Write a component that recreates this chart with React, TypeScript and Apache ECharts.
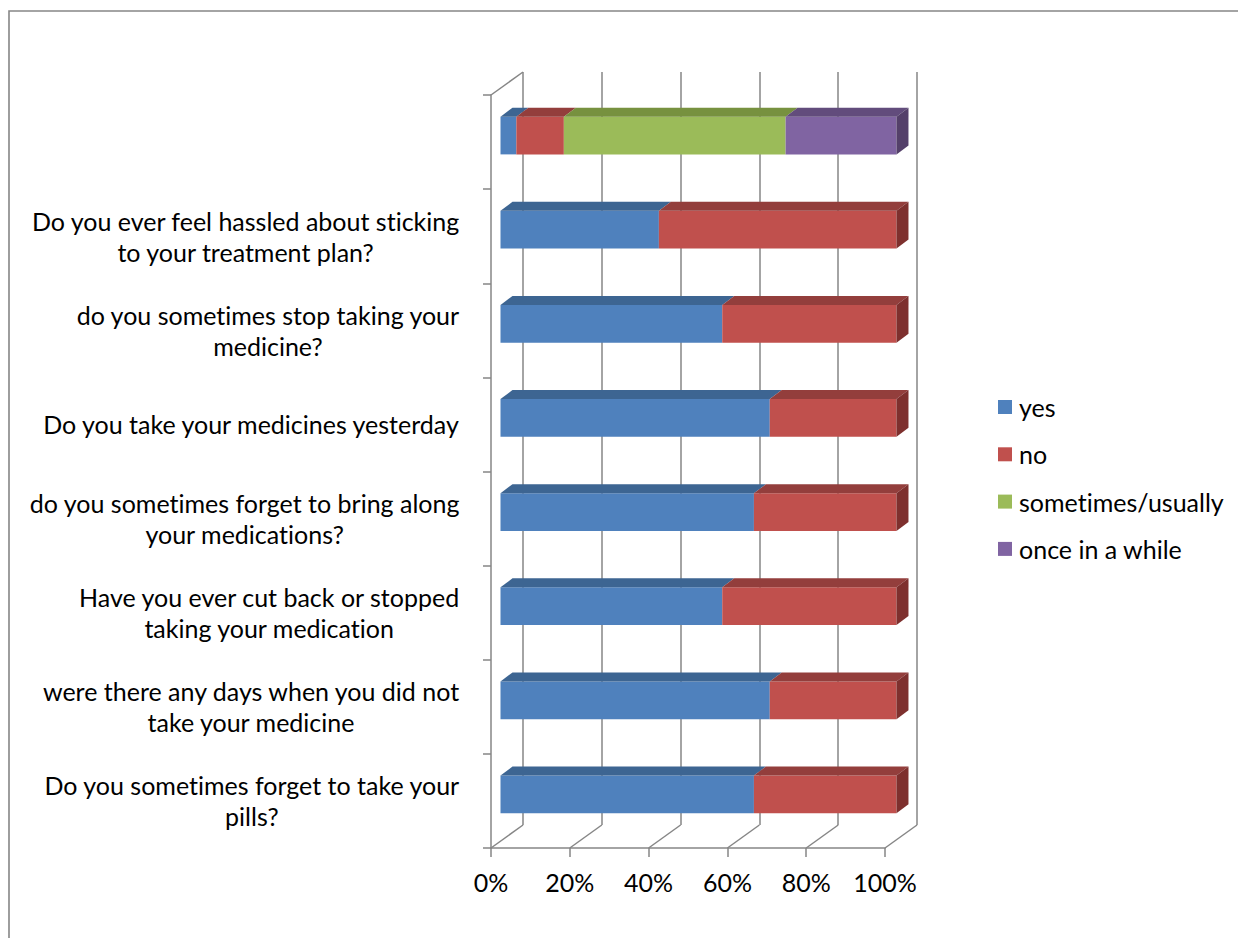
import React, { useEffect, useRef } from "react";
import * as echarts from "echarts";

const categories = [
  "",
  "Do you ever feel hassled about sticking\nto your treatment plan?",
  "do you sometimes stop taking your\nmedicine?",
  "Do you take your medicines yesterday",
  "do you sometimes forget to bring along\nyour medications?",
  "Have you ever cut back or stopped\ntaking your medication",
  "were there any days when you did not\ntake your medicine",
  "Do you sometimes forget to take your\npills?",
];
const seriesNames = ["yes", "no", "sometimes/usually", "once in a while"];
const yes = [4, 40, 56, 68, 64, 56, 68, 64];
const no = [12, 60, 44, 32, 36, 44, 32, 36];
const sometimesUsually = [56, 0, 0, 0, 0, 0, 0, 0];
const onceInAWhile = [28, 0, 0, 0, 0, 0, 0, 0];
const xTicks = [0, 20, 40, 60, 80, 100];

const FONT = "Lato, 'Liberation Sans', sans-serif";
const FS = 25;
const AXIS = "#868686";
const faceColors = ["#4F81BD", "#C0504D", "#9BBB59", "#8064A2"];
const topColors = ["#3D6592", "#933E3C", "#77913F", "#624C7C"];
const sideColors = ["#35587F", "#7E302E", "#657D35", "#54406A"];

// 3D geometry (pixels)
const WALL_DX = 32;
const WALL_DY = -23;
const BAR_DX = 9.5;
const BAR_DY = -6.5;
const BAR_SCALE = 1.005;
const BAR_DEPTH_X = 12;
const BAR_DEPTH_Y = -9;

export default function App() {
  const ref = useRef<HTMLDivElement>(null);
  useEffect(() => {
    const chart = echarts.init(ref.current as HTMLDivElement, null, { renderer: "svg" });
    const values = [yes, no, sometimesUsually, onceInAWhile];
    const totals = categories.map((_, i) => values.reduce((s, a) => s + a[i], 0));

    const barSeries = values.map((arr, si) => {
      const data = arr.map((v, i) => {
        const before = values.slice(0, si).reduce((s, a) => s + a[i], 0);
        const start = (before / totals[i]) * 100;
        const end = ((before + v) / totals[i]) * 100;
        const isLast = values.slice(si + 1).every((a) => a[i] === 0) ? 1 : 0;
        return [start, end, i, isLast];
      });
      return {
        type: "custom",
        name: seriesNames[si],
        xAxisIndex: 0,
        yAxisIndex: 0,
        z: 3,
        itemStyle: { color: faceColors[si] },
        encode: { x: [0, 1], y: 2 },
        data,
        renderItem: (params: any, api: any) => {
          const start = api.value(0);
          const end = api.value(1);
          const cat = api.value(2);
          const last = api.value(3);
          if (end - start <= 0) return null;
          const cs = params.coordSys;
          const a = api.coord([start, cat]);
          const b = api.coord([end, cat]);
          const band = api.size([0, 1])[1];
          const h = band * 0.2;
          const x0 = cs.x + (a[0] - cs.x) * BAR_SCALE + BAR_DX;
          const x1 = cs.x + (b[0] - cs.x) * BAR_SCALE + BAR_DX;
          const cy = a[1] + BAR_DY;
          const yt = cy - h;
          const yb = cy + h;
          const children: any[] = [
            {
              type: "rect",
              shape: { x: x0, y: yt, width: x1 - x0, height: yb - yt },
              style: { fill: faceColors[si] },
            },
            {
              type: "polygon",
              shape: {
                points: [
                  [x0, yt],
                  [x1, yt],
                  [x1 + BAR_DEPTH_X, yt + BAR_DEPTH_Y],
                  [x0 + BAR_DEPTH_X, yt + BAR_DEPTH_Y],
                ],
              },
              style: { fill: topColors[si] },
            },
          ];
          if (last) {
            children.push({
              type: "polygon",
              shape: {
                points: [
                  [x1, yt],
                  [x1 + BAR_DEPTH_X, yt + BAR_DEPTH_Y],
                  [x1 + BAR_DEPTH_X, yb + BAR_DEPTH_Y],
                  [x1, yb],
                ],
              },
              style: { fill: sideColors[si] },
            });
          }
          return { type: "group", children };
        },
      };
    });

    const wallSeries = {
      type: "custom",
      name: "walls",
      xAxisIndex: 0,
      yAxisIndex: 0,
      z: 1,
      silent: true,
      encode: { x: 0, y: 1 },
      data: xTicks.map((t) => [t, 0]),
      renderItem: (params: any, api: any) => {
        const v = api.value(0);
        const p = api.coord([v, 0]);
        const cs = params.coordSys;
        const bottom = cs.y + cs.height;
        const children: any[] = [
          {
            type: "line",
            shape: { x1: p[0], y1: bottom, x2: p[0] + WALL_DX, y2: bottom + WALL_DY },
            style: { stroke: AXIS, lineWidth: 1.5 },
          },
        ];
        if (v === xTicks[0]) {
          children.push({
            type: "line",
            shape: { x1: cs.x, y1: cs.y, x2: cs.x + WALL_DX, y2: cs.y + WALL_DY },
            style: { stroke: AXIS, lineWidth: 1.5 },
          });
        }
        return { type: "group", children };
      },
    };

    const option: any = {
      animation: false,
      backgroundColor: "#fff",
      textStyle: { fontFamily: FONT },
      graphic: [
        {
          type: "rect",
          shape: { x: 9, y: 11, width: 2000, height: 2000 },
          style: { fill: "none", stroke: "#868686", lineWidth: 1.6 },
          silent: true,
        },
      ],
      legend: {
        orient: "vertical",
        left: 998,
        top: 394,
        padding: 0,
        itemWidth: 14,
        itemHeight: 14,
        itemGap: 21.3,
        icon: "rect",
        data: seriesNames,
        textStyle: { fontFamily: FONT, fontSize: FS, lineHeight: 26, color: "#000", padding: [0, 0, 0, 2] },
      },
      grid: [
        { left: 491, top: 95, width: 394, height: 753 },
        { left: 523, top: 72, width: 394, height: 753 },
      ],
      xAxis: [
        {
          gridIndex: 0,
          type: "value",
          min: 0,
          max: 100,
          interval: 20,
          axisLine: { show: true, lineStyle: { color: AXIS, width: 1.5 } },
          axisTick: { show: true, length: 9, lineStyle: { color: AXIS, width: 1.5 } },
          splitLine: { show: false },
          axisLabel: {
            margin: 21,
            formatter: (v: number) => `${v}%`,
            fontFamily: FONT,
            fontSize: FS,
            color: "#000",
          },
        },
        {
          gridIndex: 1,
          type: "value",
          min: 0,
          max: 100,
          interval: 20,
          axisLine: { show: false },
          axisTick: { show: false },
          axisLabel: { show: false },
          splitLine: { show: true, lineStyle: { color: AXIS, width: 1.5 } },
        },
      ],
      yAxis: [
        {
          gridIndex: 0,
          type: "category",
          inverse: true,
          data: categories,
          axisLine: { show: true, lineStyle: { color: AXIS, width: 1.5 } },
          axisTick: { show: true, length: 8, lineStyle: { color: AXIS, width: 1.5 } },
          axisLabel: {
            margin: 31,
            align: "right",
            formatter: (v: string) =>
              v
                .split("\n")
                .map((l) => `{c|${l}}`)
                .join("\n"),
            rich: {
              c: { align: "center", fontFamily: FONT, fontSize: FS, lineHeight: 31, color: "#000" },
            },
          },
        },
        {
          gridIndex: 1,
          type: "category",
          inverse: true,
          data: categories,
          show: false,
        },
      ],
      series: [wallSeries, ...barSeries],
    };
    chart.setOption(option);
    return () => chart.dispose();
  }, []);
  return (
    <>
      <style>{`#root text { font-variant-ligatures: none !important; font-feature-settings: "liga" 0, "clig" 0 !important; }`}</style>
      <div ref={ref} style={{ position: "fixed", left: 0, top: 0, width: 1238, height: 938 }} />
    </>
  );
}
